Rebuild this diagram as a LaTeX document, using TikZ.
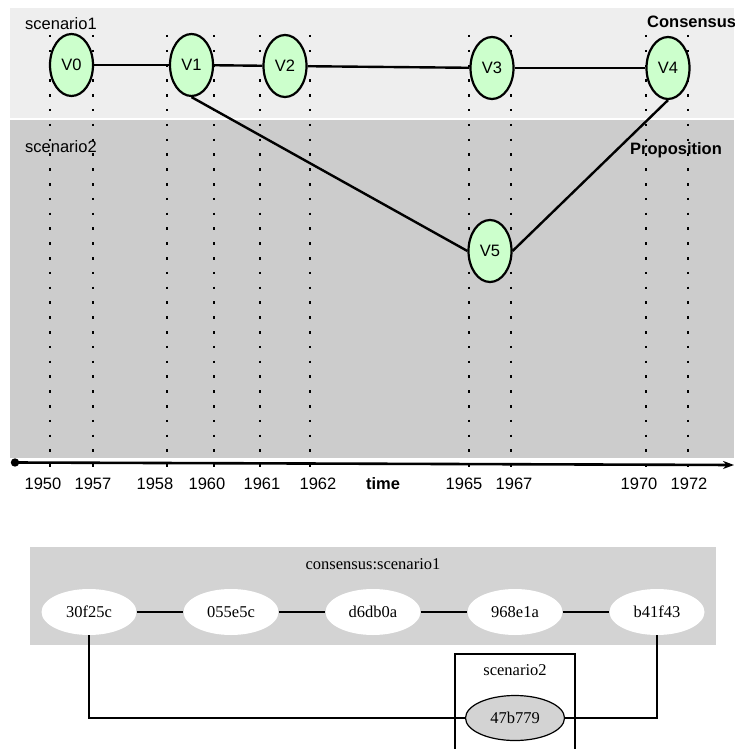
\documentclass[tikz,border=0pt]{standalone}
\usepackage{fontspec}
\setmainfont{Liberation Sans}
\newfontfamily\serifft{Liberation Serif}
\usetikzlibrary{shapes.geometric,arrows.meta}
\definecolor{bandlight}{HTML}{EEEEEE}
\definecolor{banddark}{HTML}{CCCCCC}
\definecolor{vgreen}{HTML}{CCFFCC}
\definecolor{boxgray}{HTML}{D3D3D3}
\begin{document}
\begin{tikzpicture}[x=1pt,y=-1pt,
  sansfont/.style={font=\fontsize{16.5}{19}\selectfont},
  boldfont/.style={font=\fontsize{16.5}{19}\selectfont\bfseries},
  seriffont/.style={font=\serifft\fontsize{16.5}{19}\selectfont},
  vnode/.style={ellipse, draw, line width=2.2pt, fill=vgreen, minimum width=43pt,
    minimum height=62pt, inner sep=0pt, sansfont},
  vedge/.style={line width=2.4pt},
  dotline/.style={line width=2.5pt, dash pattern=on 2.5pt off 12.3pt},
  hnode/.style={ellipse, fill=white, minimum width=95pt, minimum height=46pt,
    inner sep=0pt, seriffont},
  hedge/.style={line width=1.3pt},
  lbl/.style={inner sep=0pt}]
\clip (0,0) rectangle (734,749);
\fill[white] (0,0) rectangle (734,749);
% bands
\fill[bandlight] (10,8) rectangle (734,118);
\fill[banddark] (10,120) rectangle (734,457.5);
% dotted time lines
\foreach \x in {50,93,167,214,260,310,469,511,646,688}
  \draw[dotline] (\x,35) -- (\x,467);
% labels
\node[lbl, sansfont, anchor=base west] (s1) at (25,30) {scenario1};
\node[lbl, sansfont, anchor=base west] (s2) at (25,153) {scenario2};
\node[lbl, boldfont, anchor=base west] (cons) at (647,28) {Consensus};
\node[lbl, boldfont, anchor=base west] (prop) at (630,154) {Proposition};
% version nodes
\node[vnode] (V0) at (71.5,65) {V0};
\node[vnode] (V1) at (191.5,65) {V1};
\node[vnode] (V2) at (285,66) {V2};
\node[vnode] (V3) at (492,68) {V3};
\node[vnode] (V4) at (668,68) {V4};
\node[vnode] (V5) at (490,251) {V5};
\draw[vedge] (V0) -- (V1);
\draw[vedge] (V1) -- (V2);
\draw[vedge] (V2) -- (V3);
\draw[vedge] (V3) -- (V4);
\draw[vedge] (V1.south) -- (V5.west);
\draw[vedge] (V5.east) -- (V4.south);
% time axis
\coordinate (axs) at (15,462.5);
\coordinate (axe) at (734,465);
\fill (axs) circle (4.2);
\draw[line width=2.6pt, -{Stealth[length=11pt,width=8pt]}] (axs) -- (axe);
\foreach \x/\y in {43/1950,93/1957,155/1958,207/1960,262/1961,318/1962,464/1965,514/1967,639/1970,689/1972}
  \node[lbl, sansfont, anchor=base] (y\y) at (\x,489) {\y};
\node[lbl, boldfont, anchor=base] (tm) at (383,489) {time};
% bottom graph
\fill[boxgray] (30,547) rectangle (716,645);
\node[lbl, seriffont, anchor=base] (cl) at (373,569) {consensus:scenario1};
\node[hnode] (h1) at (89,612) {30f25c};
\node[hnode] (h2) at (231,612) {055e5c};
\node[hnode] (h3) at (373,612) {d6db0a};
\node[hnode] (h4) at (515,612) {968e1a};
\node[hnode] (h5) at (657,612) {b41f43};
\draw[hedge] (h1) -- (h2);
\draw[hedge] (h2) -- (h3);
\draw[hedge] (h3) -- (h4);
\draw[hedge] (h4) -- (h5);
\draw[line width=1.2pt] (455,760) -- (455,654) -- (575,654) -- (575,760);
\node[lbl, seriffont, anchor=base] (s2l) at (515,675) {scenario2};
\node[hnode, draw, line width=1.2pt, fill=boxgray, minimum width=99pt, minimum height=45pt] (h6) at (515,718) {47b779};
\draw[hedge] (h1.south) |- (h6.west);
\draw[hedge] (h5.south) |- (h6.east);
\end{tikzpicture}
\end{document}
